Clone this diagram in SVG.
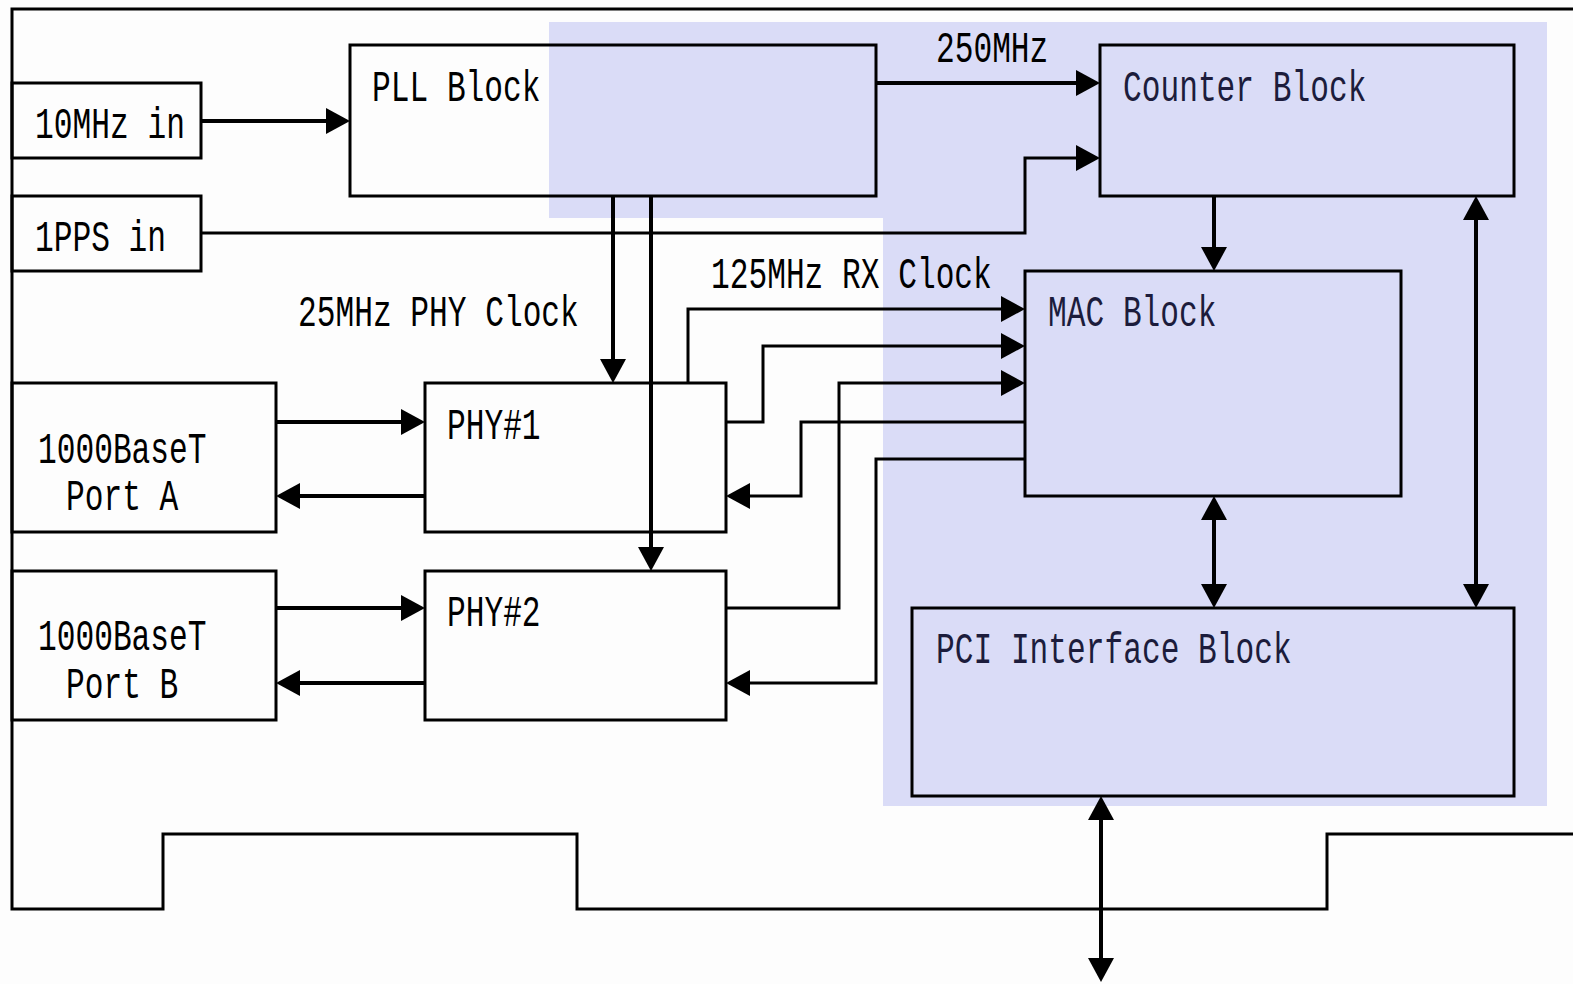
<svg xmlns="http://www.w3.org/2000/svg" width="1573" height="984" viewBox="0 0 1573 984">
<defs>
<marker id="ah" markerUnits="userSpaceOnUse" markerWidth="24" markerHeight="26" refX="0" refY="13" orient="auto-start-reverse" viewBox="0 0 24 26"><path d="M0,0 L24,13 L0,26 z" fill="#000"/></marker>
</defs>
<style>
.box{fill:none;stroke:#000;stroke-width:3}
.lbl{font-family:"Liberation Mono","DejaVu Sans Mono",monospace;font-size:44px;fill:#000}
.sh .lbl{fill:#1c1c3c}
.c{fill:none;stroke:#000;stroke-linejoin:miter}
.t{stroke-width:4}
.n{stroke-width:3}
.a{marker-end:url(#ah)}
.b{marker-start:url(#ah);marker-end:url(#ah)}
</style>
<rect width="1573" height="984" fill="#fdfdfd"/>
<path d="M549,22 H1547 V806 H883 V218 H549 Z" fill="#dadcf7"/>
<path id="board" d="M1573,9 H12 V909 H163 V834 H577 V909 H1327 V834 H1573" fill="none" stroke="#000" stroke-width="3"/>
<g id="in10">
<rect class="box" x="12" y="83" width="189" height="75"/>
<text class="lbl" x="35" y="137.5" textLength="150" lengthAdjust="spacingAndGlyphs">10MHz in</text>
</g>
<g id="pps">
<rect class="box" x="12" y="196" width="189" height="75"/>
<text class="lbl" x="35" y="251" textLength="131" lengthAdjust="spacingAndGlyphs">1PPS in</text>
</g>
<g id="pll">
<rect class="box" x="350" y="45" width="526" height="151"/>
<text class="lbl" x="372" y="101" textLength="168.5" lengthAdjust="spacingAndGlyphs">PLL Block</text>
</g>
<g id="counter" class="sh">
<rect class="box" x="1100" y="45" width="414" height="151"/>
<text class="lbl" x="1123" y="101" textLength="243.4" lengthAdjust="spacingAndGlyphs">Counter Block</text>
</g>
<g id="mac" class="sh">
<rect class="box" x="1025" y="271" width="376" height="225"/>
<text class="lbl" x="1048" y="326" textLength="168.5" lengthAdjust="spacingAndGlyphs">MAC Block</text>
</g>
<g id="pci" class="sh">
<rect class="box" x="912" y="608" width="602" height="188"/>
<text class="lbl" x="936" y="663" textLength="355.7" lengthAdjust="spacingAndGlyphs">PCI Interface Block</text>
</g>
<g id="portA">
<rect class="box" x="12" y="383" width="264" height="149"/>
<text class="lbl" x="38" y="462.5" textLength="168.5" lengthAdjust="spacingAndGlyphs">1000BaseT</text>
<text class="lbl" x="66" y="509.5" textLength="112.3" lengthAdjust="spacingAndGlyphs">Port A</text>
</g>
<g id="phy1">
<rect class="box" x="425" y="383" width="301" height="149"/>
<text class="lbl" x="447" y="439" textLength="93.6" lengthAdjust="spacingAndGlyphs">PHY#1</text>
</g>
<g id="portB">
<rect class="box" x="12" y="571" width="264" height="149"/>
<text class="lbl" x="38" y="650" textLength="168.5" lengthAdjust="spacingAndGlyphs">1000BaseT</text>
<text class="lbl" x="66" y="698" textLength="112.3" lengthAdjust="spacingAndGlyphs">Port B</text>
</g>
<g id="phy2">
<rect class="box" x="425" y="571" width="301" height="149"/>
<text class="lbl" x="447" y="626" textLength="93.6" lengthAdjust="spacingAndGlyphs">PHY#2</text>
</g>
<g id="connectors">
<path class="c t a" d="M201,121 H326"/>
<path class="c n a" d="M201,233 H1025 V158 H1076"/>
<path class="c t a" d="M876,83 H1076"/>
<path class="c t a" d="M613,196 V359"/>
<path class="c t a" d="M651,196 V547"/>
<path class="c t a" d="M1214,196 V247"/>
<path class="c t b" d="M1214,520 V584"/>
<path class="c t b" d="M1476,220 V584"/>
<path class="c t b" d="M1101,820 V958"/>
<path class="c n a" d="M688,383 V309 H1001"/>
<path class="c n a" d="M726,422 H763 V346 H1001"/>
<path class="c n a" d="M726,608 H839 V383 H1001"/>
<path class="c n a" d="M1025,422 H801 V496 H750"/>
<path class="c n a" d="M1025,459 H876 V683 H750"/>
<path class="c t a" d="M276,422 H401"/>
<path class="c t a" d="M425,496 H300"/>
<path class="c t a" d="M276,608 H401"/>
<path class="c t a" d="M425,683 H300"/>
</g>
<g id="labels">
<text class="lbl" x="936" y="62" textLength="112.3" lengthAdjust="spacingAndGlyphs">250MHz</text>
<text class="lbl" x="711" y="288" textLength="280.8" lengthAdjust="spacingAndGlyphs">125MHz RX Clock</text>
<text class="lbl" x="298" y="326" textLength="280.8" lengthAdjust="spacingAndGlyphs">25MHz PHY Clock</text>
</g>
</svg>
